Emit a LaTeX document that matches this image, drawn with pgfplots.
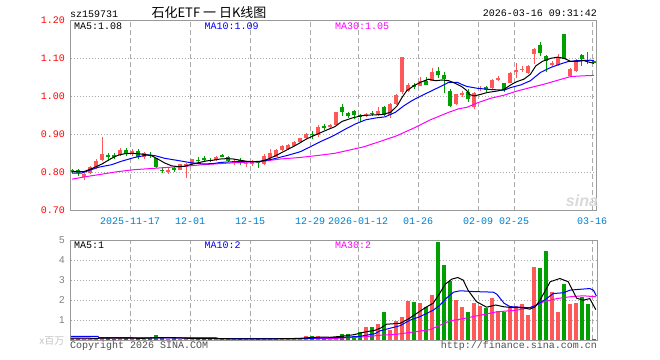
\documentclass[border=0pt]{standalone}
\usepackage{pgfplots}
\pgfplotsset{compat=1.18}
\usepackage{pgfplotstable}
\usepackage{fontspec}
\setmainfont{Liberation Mono}
\newfontfamily\cjk{Noto Sans CJK SC}
\newfontfamily\sans{Liberation Sans}
\newcommand\fs[1]{\fontsize{#1}{#1}\selectfont}
\definecolor{cred}{RGB}{255,88,88}
\definecolor{cgreen}{RGB}{0,160,0}
\definecolor{cblue}{RGB}{0,0,255}
\definecolor{cmag}{RGB}{255,0,255}
\definecolor{cgrid}{RGB}{170,170,170}
\definecolor{caxis}{RGB}{153,153,153}
\definecolor{cdate}{RGB}{0,128,204}
\definecolor{ctick}{RGB}{255,0,0}
\definecolor{ctext}{RGB}{80,80,80}

\pgfplotstableread{
k O H L C
2 0.789 0.799 0.781 0.797
3 0.799 0.818 0.797 0.816
4 0.815 0.836 0.811 0.832
5 0.834 0.893 0.832 0.849
8 0.847 0.866 0.845 0.861
10 0.848 0.862 0.843 0.857
12 0.840 0.855 0.836 0.852
16 0.804 0.812 0.796 0.806
18 0.808 0.824 0.806 0.822
19 0.814 0.826 0.787 0.824
20 0.823 0.837 0.821 0.835
24 0.833 0.845 0.831 0.842
27 0.827 0.835 0.820 0.829
29 0.824 0.830 0.815 0.826
30 0.824 0.834 0.818 0.829
32 0.822 0.848 0.820 0.845
33 0.838 0.862 0.836 0.851
34 0.842 0.862 0.840 0.860
35 0.860 0.873 0.858 0.871
36 0.862 0.875 0.860 0.873
37 0.871 0.884 0.869 0.882
38 0.880 0.892 0.878 0.890
39 0.890 0.905 0.888 0.903
41 0.899 0.925 0.895 0.921
43 0.922 0.927 0.918 0.924
44 0.926 0.961 0.924 0.959
49 0.951 0.958 0.947 0.953
51 0.951 0.972 0.948 0.962
53 0.953 0.984 0.945 0.982
54 0.982 1.008 0.979 1.005
55 1.013 1.105 1.008 1.105
56 1.014 1.035 1.012 1.032
58 1.029 1.053 1.027 1.040
60 1.042 1.075 1.040 1.064
64 0.981 1.008 0.978 1.007
65 1.007 1.016 0.998 1.009
67 0.973 1.013 0.968 1.011
68 1.020 1.028 1.016 1.024
70 1.022 1.047 1.020 1.045
71 1.045 1.054 1.040 1.048
73 1.037 1.064 1.035 1.062
74 1.064 1.088 1.050 1.070
75 1.071 1.080 1.066 1.074
76 1.063 1.084 1.060 1.081
77 1.112 1.128 1.087 1.126
80 1.084 1.093 1.082 1.090
81 1.084 1.112 1.082 1.104
83 1.054 1.075 1.052 1.073
84 1.068 1.098 1.066 1.096
}\redtab

\pgfplotstableread{
k O H L C
0 0.806 0.810 0.800 0.804
1 0.808 0.810 0.792 0.800
6 0.846 0.852 0.830 0.844
7 0.846 0.851 0.836 0.844
9 0.860 0.864 0.845 0.849
11 0.857 0.862 0.836 0.840
13 0.847 0.855 0.838 0.845
14 0.839 0.840 0.812 0.815
15 0.808 0.814 0.798 0.806
17 0.811 0.816 0.803 0.809
21 0.834 0.840 0.826 0.832
22 0.837 0.845 0.827 0.835
23 0.834 0.838 0.828 0.832
25 0.846 0.849 0.840 0.844
26 0.842 0.844 0.829 0.831
28 0.832 0.838 0.820 0.830
31 0.830 0.832 0.813 0.828
40 0.902 0.910 0.889 0.900
42 0.922 0.927 0.912 0.920
45 0.972 0.982 0.950 0.959
46 0.957 0.960 0.945 0.948
47 0.962 0.965 0.942 0.951
48 0.951 0.954 0.934 0.949
50 0.957 0.962 0.950 0.955
52 0.974 0.976 0.950 0.953
57 1.030 1.036 1.020 1.028
59 1.042 1.051 1.030 1.032
61 1.068 1.079 1.050 1.058
62 1.057 1.065 1.011 1.046
63 1.016 1.020 0.972 0.976
66 1.012 1.020 0.985 0.993
69 1.026 1.028 1.012 1.018
72 1.035 1.037 1.012 1.018
78 1.135 1.145 1.108 1.116
79 1.106 1.110 1.066 1.093
82 1.165 1.165 1.098 1.100
85 1.110 1.112 1.080 1.098
86 1.097 1.117 1.086 1.095
87 1.093 1.096 1.085 1.088
}\greentab

\pgfplotstableread{
k v
2 0.08
3 0.10
4 0.12
5 0.15
8 0.12
10 0.09
12 0.08
16 0.08
18 0.08
19 0.10
20 0.10
24 0.07
27 0.06
29 0.06
30 0.05
32 0.08
33 0.07
34 0.06
35 0.07
36 0.08
37 0.09
38 0.10
39 0.20
41 0.20
43 0.10
44 0.13
49 0.65
51 0.80
53 0.52
54 0.97
55 1.15
56 1.97
58 1.85
60 2.25
64 2.00
65 1.65
67 1.85
68 1.72
70 2.10
71 1.47
73 1.67
74 1.70
75 1.80
76 1.25
77 3.65
80 2.42
81 1.40
83 1.80
84 1.85
}\redvol

\pgfplotstableread{
k v
0 0.10
1 0.09
6 0.10
7 0.08
9 0.10
11 0.10
13 0.10
14 0.25
15 0.12
17 0.09
21 0.08
22 0.09
23 0.08
25 0.06
26 0.08
28 0.07
31 0.07
40 0.20
42 0.12
45 0.33
46 0.30
47 0.20
48 0.42
50 0.65
52 1.40
57 1.90
59 1.67
61 4.90
62 3.75
63 2.97
66 1.40
69 1.60
72 1.42
78 3.60
79 4.45
82 2.80
85 2.15
86 1.80
87 0.05
}\greenvol

\pgfplotsset{
  kpanel/.style={
    scale only axis, anchor=south west,
    width=526.3bp, xmin=-0.22, xmax=87.5,
    axis line style={draw=caxis, line width=1bp},
    xtick={9.67,19.67,29.67,39.67,47.67,57.67,67.67,73.67,86.67},
    major tick length=0pt,
    xmajorgrids, ymajorgrids,
    x grid style={draw=cgrid, line width=1bp, dash pattern=on 5bp off 3bp},
    y grid style={draw=cgrid, line width=1bp, dash pattern=on 1bp off 2bp},
  },
  wick/.style={draw=none, mark=none, error bars/.cd, y dir=both, y explicit, error mark=none,
    error bar style={draw=#1, line width=1bp}},
  body/.style={draw=none, mark=none, error bars/.cd, y dir=both, y explicit, error mark=none,
    error bar style={draw=#1, line width=4.6bp}},
}

\begin{document}
\begin{tikzpicture}
\fill[white] (0,0) rectangle (660bp,360bp);
\path[use as bounding box] (0,0) rectangle (660bp,360bp);

% ---------- price panel ----------
\begin{axis}[kpanel, at={(70.7bp,149.3bp)}, height=190bp,
  ymin=0.70, ymax=1.20,
  xticklabels={2025-11-17,12-01,12-15,12-29,2026-01-12,01-26,02-09,02-25,03-16},
  ytick={0.7,0.8,0.9,1.0,1.1,1.2},
  yticklabels={0.70,0.80,0.90,1.00,1.10,1.20},
  xticklabel style={font=\fs{10bp}, text=cdate, anchor=center, inner sep=0pt, yshift=-10.3bp},
  yticklabel style={font=\fs{10bp}, text=ctick, anchor=east, inner sep=0pt, xshift=-5.7bp},
]
\addplot[wick=cred] table[x=k, y expr={(\thisrow{H}+\thisrow{L})/2}, y error expr={(\thisrow{H}-\thisrow{L})/2}] {\redtab};
\addplot[wick=cgreen] table[x=k, y expr={(\thisrow{H}+\thisrow{L})/2}, y error expr={(\thisrow{H}-\thisrow{L})/2}] {\greentab};
\addplot[body=cred] table[x=k, y expr={(\thisrow{O}+\thisrow{C})/2}, y error expr={max(abs(\thisrow{C}-\thisrow{O})/2,0.0014)}] {\redtab};
\addplot[body=cgreen] table[x=k, y expr={(\thisrow{O}+\thisrow{C})/2}, y error expr={max(abs(\thisrow{C}-\thisrow{O})/2,0.0014)}] {\greentab};
% MA30
\addplot[cmag, line width=1bp, mark=none] coordinates {
(0,0.783) (2.1,0.789) (4.9,0.796) (7.7,0.803) (10.4,0.808) (13.2,0.811) (16,0.814) (18.8,0.817) (21.8,0.821)
(24.7,0.824) (28,0.827) (31.3,0.829) (34.7,0.836) (38,0.840) (40.8,0.845) (43.8,0.851)
(45.8,0.858) (48.6,0.868) (51.3,0.882) (54.1,0.897) (56.9,0.917) (59.7,0.939) (62.8,0.959) (64.4,0.968)
(65.8,0.972) (67.6,0.984) (69.8,0.996) (72,1.004) (74.2,1.015) (76.4,1.024) (78.7,1.033) (80.9,1.043)
(83.1,1.053) (85.3,1.055) (87,1.056)};
% MA10
\addplot[cblue, line width=1bp, mark=none] coordinates {
(0,0.799) (1.6,0.799) (2.7,0.805) (4.3,0.814) (6.6,0.821) (8.2,0.830) (10.4,0.840) (12.7,0.847) (13.8,0.845)
(15.4,0.838) (17.7,0.832) (19.9,0.826) (21.8,0.823) (23.6,0.824) (24.7,0.827) (26.9,0.829) (29.1,0.829)
(31.3,0.829) (33.5,0.836) (35.8,0.845) (38,0.855) (39.7,0.868) (41.3,0.881) (43,0.893) (44,0.901)
(45.6,0.915) (47.2,0.928) (48.9,0.939) (50.6,0.944) (52.2,0.947) (53.9,0.959) (55.3,0.976) (56.7,0.990)
(58.3,1.003) (60,1.016) (61.7,1.029) (62.8,1.038) (64.2,1.038) (65,1.032) (65.8,1.027) (67.6,1.022)
(69.8,1.019) (72,1.017) (73.1,1.024) (74.8,1.031) (76.4,1.042) (78.1,1.064) (79.8,1.077) (81.4,1.086)
(82.6,1.092) (84.2,1.095) (86.4,1.096) (87,1.095)};
% MA5
\addplot[black, line width=1bp, mark=none] coordinates {
(0,0.803) (2,0.803) (3.5,0.812) (5,0.823) (6.6,0.838) (7.7,0.846) (8.8,0.850) (9.9,0.851) (11,0.850)
(12.1,0.848) (13.2,0.845) (14.3,0.836) (15.4,0.826) (16.6,0.818) (17.7,0.816) (18.8,0.817) (19.9,0.822)
(21,0.826) (22.4,0.831) (23.6,0.833) (24.7,0.836) (25.8,0.837) (26.9,0.836) (28,0.833) (29.1,0.830)
(30.2,0.829) (31.3,0.830) (32.4,0.834) (34.1,0.846) (35.8,0.860) (37.4,0.873) (39.1,0.889) (40.8,0.901)
(42.4,0.912) (43.8,0.921) (45,0.935) (46.7,0.944) (48.3,0.950) (50,0.952) (51.7,0.953) (53.1,0.959)
(54.2,0.976) (55,0.998) (55.8,1.016) (57,1.029) (58.1,1.038) (59.4,1.046) (60.6,1.042) (61.7,1.044)
(62.8,1.042) (63.9,1.035) (65,1.026) (65.8,1.016) (66.2,1.006) (67,1.002) (68.1,1.006) (69.2,1.011)
(70.9,1.015) (72,1.019) (73.1,1.031) (74.2,1.040) (75.3,1.046) (76.4,1.059) (77.3,1.081) (78.4,1.093)
(79.8,1.101) (80.9,1.104) (82,1.101) (83.1,1.093) (84.2,1.093) (85.3,1.095) (86.4,1.090) (87,1.088)};
\end{axis}

% ---------- volume panel ----------
\begin{axis}[kpanel, at={(70.7bp,19.7bp)}, height=100.3bp,
  ymin=0, ymax=5,
  xticklabels={},
  ytick={1,2,3,4,5},
  yticklabels={1,2,3,4,5},
  yticklabel style={font=\sans\fs{10bp}, text=gray, anchor=east, inner sep=0pt, xshift=-5.7bp},
]
\addplot[ycomb, draw=cred, line width=4.6bp, mark=none] table[x=k, y=v] {\redvol};
\addplot[ycomb, draw=cgreen, line width=4.6bp, mark=none] table[x=k, y=v] {\greenvol};
% MA30
\addplot[cmag, line width=1bp, mark=none] coordinates {
(-0.2,0.07) (4.3,0.07) (4.5,0.12) (24,0.12) (24.5,0.07) (43,0.08) (48.6,0.17) (51.3,0.25) (54.1,0.30)
(57,0.42) (59.7,0.53) (61.3,0.75) (63,0.97) (65.2,1.08) (68,1.25) (70.8,1.42) (74.1,1.50) (76.3,1.63)
(78.6,1.92) (80.8,2.08) (83,2.17) (85.2,2.22) (87.3,2.17)};
% MA10
\addplot[cblue, line width=1bp, mark=none] coordinates {
(-0.2,0.20) (4.3,0.20) (4.5,0.13) (24,0.12) (24.5,0.08) (38,0.08) (40,0.10) (43,0.13) (45,0.14) (48,0.20)
(50.5,0.33) (51.3,0.47) (54.7,0.73) (56.3,1.00) (58,1.18) (60.2,1.50) (61.3,1.75) (62.4,2.10) (63.6,2.40)
(64.7,2.47) (66.9,2.43) (70.2,2.40) (70.8,2.30) (72,1.85) (73,1.68) (76.3,1.62) (77.4,1.75) (79.1,2.08)
(80.2,2.33) (81.9,2.37) (83,2.50) (84.1,2.53) (86.3,2.58) (86.9,2.50) (87.4,2.20)};
% MA5
\addplot[black, line width=1bp, mark=none] coordinates {
(-0.2,0.11) (4,0.10) (6,0.11) (12,0.10) (14,0.13) (16,0.14) (18,0.12) (20,0.09) (25,0.08) (30,0.07)
(36,0.08) (38,0.10) (40,0.14) (42,0.16) (43,0.15) (45,0.20) (47,0.28) (48.6,0.40) (50.5,0.50) (51.5,0.62)
(52.4,0.80) (54.7,0.85) (56,1.05) (57,1.25) (59,1.65) (60.2,1.85) (61.3,2.35) (62.2,2.80) (63.3,3.05)
(64.3,3.13) (65.2,3.00) (66,2.50) (67.4,1.93) (69.1,1.65) (70.6,1.76) (72,1.67) (73.6,1.63) (75.2,1.62)
(76.3,1.55) (77.2,1.67) (78,2.00) (79.7,2.92) (81.3,3.08) (82.7,2.92) (84.1,2.10) (85.2,2.00) (86.3,2.08)
(87.3,1.53)};
\end{axis}

% ---------- texts ----------
\node[anchor=west, inner sep=0pt, font=\fs{10bp}] at (70bp,346bp) {sz159731};
\node[inner sep=0pt, font=\cjk\fs{13bp}] at (209bp,347.5bp) {石化ETF 一 日K线图};
\node[anchor=east, inner sep=0pt, font=\fs{10bp}] at (597bp,347bp) {2026-03-16 09:31:42};

\node[anchor=west, inner sep=0pt, font=\fs{10bp}, text=black] at (74bp,333.5bp) {MA5:1.08};
\node[anchor=west, inner sep=0pt, font=\fs{10bp}, text=cblue] at (204.3bp,333.5bp) {MA10:1.09};
\node[anchor=west, inner sep=0pt, font=\fs{10bp}, text=cmag] at (335bp,333.5bp) {MA30:1.05};

\node[anchor=west, inner sep=0pt, font=\fs{10bp}, text=black] at (74bp,114.5bp) {MA5:1};
\node[anchor=west, inner sep=0pt, font=\fs{10bp}, text=cblue] at (204.3bp,114.5bp) {MA10:2};
\node[anchor=west, inner sep=0pt, font=\fs{10bp}, text=cmag] at (335bp,114.5bp) {MA30:2};

\node[anchor=east, inner sep=0pt, font=\cjk\fs{10bp}, text=gray!45] at (64.5bp,19.5bp) {x百万};
\node[anchor=west, inner sep=0pt, font=\fs{10bp}, text=ctext] at (70bp,14bp) {Copyright 2026 SINA.COM};
\node[anchor=east, inner sep=0pt, font=\fs{10bp}, text=ctext] at (597bp,14bp) {http://finance.sina.com.cn};

\node[inner sep=0pt, font=\sans\bfseries\itshape\fs{16bp}, text=gray!30] at (582bp,159bp) {sina};
\end{tikzpicture}
\end{document}
